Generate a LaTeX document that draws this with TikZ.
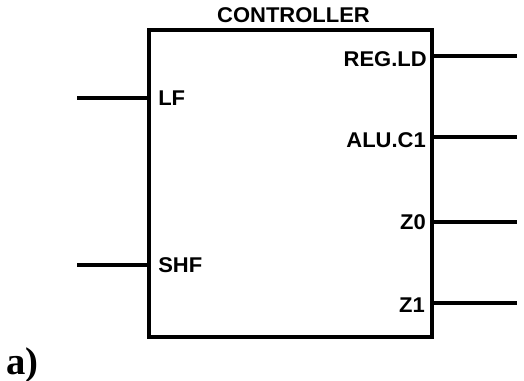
\documentclass[tikz,border=0pt]{standalone}
\usepackage{fontspec}
\setmainfont{Liberation Sans}[FakeStretch=1.03]
\newfontfamily\tagfont{Liberation Serif}
\usepackage{tikz}
\usetikzlibrary{positioning,calc}
\definecolor{cInk}{HTML}{000000}
\tikzset{
  blk/.style    = {draw=cInk, line width=3pt, inner sep=0pt,
                   minimum width=212.25pt, minimum height=230.25pt},
  pin/.style    = {draw=cInk, line width=2.4pt},
  pinlbl/.style = {font=\fontsize{16}{19}\selectfont\bfseries, inner sep=0pt},
  ttl/.style    = {pinlbl},
  tag/.style    = {font=\tagfont\bfseries\fontsize{29}{29}\selectfont,
                   inner sep=0pt},
}

\begin{document}
\begin{tikzpicture}[x=0.75pt, y=-0.75pt]
  \useasboundingbox (0,0) rectangle (524,381);
  % ---- controller block ----
  \node[blk] (ctrl) at (290.5,183.5) {};
  \node[ttl, above=3.75pt of ctrl.north, xshift=2.25pt] (title) {CONTROLLER};
  % ---- pin ends ----
  \coordinate (lfin)   at (77,98);
  \coordinate (shfin)  at (77,265);
  \coordinate (regout) at (517,56);
  \coordinate (aluout) at (517,137);
  \coordinate (zzout)  at (517,222);
  \coordinate (zoout)  at (517,303);
  % ---- inputs ----
  \draw[pin] (lfin) -- (lfin -| ctrl.west);
  \draw[pin] (shfin) -- (shfin -| ctrl.west);
  \node[pinlbl, anchor=west] (lf)  at ($(lfin -| ctrl.west)+(11,0)$) {LF};
  \node[pinlbl, anchor=west] (shf) at ($(shfin -| ctrl.west)+(11,0)$) {SHF};
  % ---- outputs ----
  \draw[pin] (regout -| ctrl.east) -- (regout);
  \draw[pin] (aluout -| ctrl.east) -- (aluout);
  \draw[pin] (zzout -| ctrl.east) -- (zzout);
  \draw[pin] (zoout -| ctrl.east) -- (zoout);
  \node[pinlbl, anchor=east] (regld) at ($(regout -| ctrl.east)+(-7,3)$) {REG.LD};
  \node[pinlbl, anchor=east] (aluc)  at ($(aluout -| ctrl.east)+(-8,3)$) {ALU.C1};
  \node[pinlbl, anchor=east] (zz)    at ($(zzout -| ctrl.east)+(-8,0)$) {Z0};
  \node[pinlbl, anchor=east] (zo)    at ($(zoout -| ctrl.east)+(-9,2)$) {Z1};
  % ---- sub-figure tag ----
  \node[tag, anchor=base west] (part) at (6,374) {a)};
\end{tikzpicture}
\end{document}
